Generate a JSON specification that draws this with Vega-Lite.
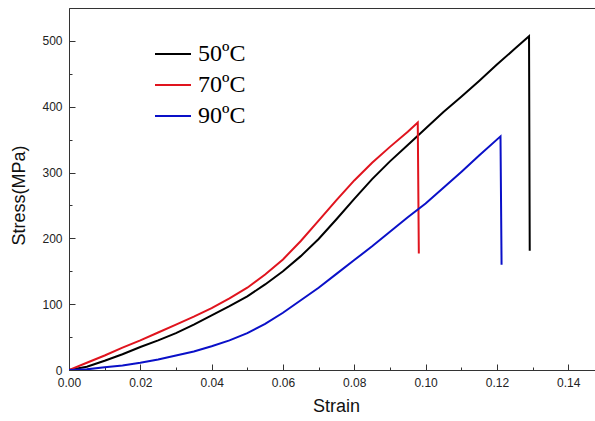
{
  "$schema": "https://vega.github.io/schema/vega-lite/v6.json",
  "width": 526,
  "height": 362,
  "autosize": {"type": "none"},
  "padding": {"left": 69, "top": 8, "right": 0, "bottom": 51},
  "background": "white",
  "config": {
    "view": {"stroke": "#333", "strokeWidth": 1},
    "font": "Liberation Sans"
  },
  "data": {
    "values": [
      {"temp": "50ºC", "strain": 0, "stress": 0},
      {"temp": "50ºC", "strain": 0.005, "stress": 5},
      {"temp": "50ºC", "strain": 0.01, "stress": 14},
      {"temp": "50ºC", "strain": 0.015, "stress": 24},
      {"temp": "50ºC", "strain": 0.02, "stress": 35},
      {"temp": "50ºC", "strain": 0.025, "stress": 45},
      {"temp": "50ºC", "strain": 0.03, "stress": 56},
      {"temp": "50ºC", "strain": 0.035, "stress": 69},
      {"temp": "50ºC", "strain": 0.04, "stress": 83},
      {"temp": "50ºC", "strain": 0.045, "stress": 97},
      {"temp": "50ºC", "strain": 0.05, "stress": 112},
      {"temp": "50ºC", "strain": 0.055, "stress": 130},
      {"temp": "50ºC", "strain": 0.06, "stress": 150},
      {"temp": "50ºC", "strain": 0.065, "stress": 173},
      {"temp": "50ºC", "strain": 0.07, "stress": 199},
      {"temp": "50ºC", "strain": 0.075, "stress": 229},
      {"temp": "50ºC", "strain": 0.08, "stress": 260},
      {"temp": "50ºC", "strain": 0.085, "stress": 290},
      {"temp": "50ºC", "strain": 0.09, "stress": 317},
      {"temp": "50ºC", "strain": 0.095, "stress": 342},
      {"temp": "50ºC", "strain": 0.1, "stress": 367},
      {"temp": "50ºC", "strain": 0.105, "stress": 392},
      {"temp": "50ºC", "strain": 0.11, "stress": 415},
      {"temp": "50ºC", "strain": 0.115, "stress": 439},
      {"temp": "50ºC", "strain": 0.12, "stress": 464},
      {"temp": "50ºC", "strain": 0.125, "stress": 488},
      {"temp": "50ºC", "strain": 0.129, "stress": 507},
      {"temp": "50ºC", "strain": 0.1292, "stress": 181},
      {"temp": "70ºC", "strain": 0, "stress": 0},
      {"temp": "70ºC", "strain": 0.005, "stress": 11},
      {"temp": "70ºC", "strain": 0.01, "stress": 22},
      {"temp": "70ºC", "strain": 0.015, "stress": 34},
      {"temp": "70ºC", "strain": 0.02, "stress": 45},
      {"temp": "70ºC", "strain": 0.025, "stress": 57},
      {"temp": "70ºC", "strain": 0.03, "stress": 69},
      {"temp": "70ºC", "strain": 0.035, "stress": 81},
      {"temp": "70ºC", "strain": 0.04, "stress": 94},
      {"temp": "70ºC", "strain": 0.045, "stress": 109},
      {"temp": "70ºC", "strain": 0.05, "stress": 125},
      {"temp": "70ºC", "strain": 0.055, "stress": 145},
      {"temp": "70ºC", "strain": 0.06, "stress": 168},
      {"temp": "70ºC", "strain": 0.065, "stress": 196},
      {"temp": "70ºC", "strain": 0.07, "stress": 227},
      {"temp": "70ºC", "strain": 0.075, "stress": 258},
      {"temp": "70ºC", "strain": 0.08, "stress": 288},
      {"temp": "70ºC", "strain": 0.085, "stress": 315},
      {"temp": "70ºC", "strain": 0.09, "stress": 339},
      {"temp": "70ºC", "strain": 0.095, "stress": 362},
      {"temp": "70ºC", "strain": 0.0978, "stress": 376},
      {"temp": "70ºC", "strain": 0.0981, "stress": 177},
      {"temp": "90ºC", "strain": 0, "stress": 0},
      {"temp": "90ºC", "strain": 0.005, "stress": 1},
      {"temp": "90ºC", "strain": 0.01, "stress": 4},
      {"temp": "90ºC", "strain": 0.015, "stress": 7},
      {"temp": "90ºC", "strain": 0.02, "stress": 11},
      {"temp": "90ºC", "strain": 0.025, "stress": 16},
      {"temp": "90ºC", "strain": 0.03, "stress": 22},
      {"temp": "90ºC", "strain": 0.035, "stress": 28},
      {"temp": "90ºC", "strain": 0.04, "stress": 36},
      {"temp": "90ºC", "strain": 0.045, "stress": 45},
      {"temp": "90ºC", "strain": 0.05, "stress": 56},
      {"temp": "90ºC", "strain": 0.055, "stress": 70},
      {"temp": "90ºC", "strain": 0.06, "stress": 87},
      {"temp": "90ºC", "strain": 0.065, "stress": 106},
      {"temp": "90ºC", "strain": 0.07, "stress": 125},
      {"temp": "90ºC", "strain": 0.075, "stress": 146},
      {"temp": "90ºC", "strain": 0.08, "stress": 167},
      {"temp": "90ºC", "strain": 0.085, "stress": 188},
      {"temp": "90ºC", "strain": 0.09, "stress": 210},
      {"temp": "90ºC", "strain": 0.095, "stress": 232},
      {"temp": "90ºC", "strain": 0.1, "stress": 253},
      {"temp": "90ºC", "strain": 0.105, "stress": 277},
      {"temp": "90ºC", "strain": 0.11, "stress": 301},
      {"temp": "90ºC", "strain": 0.115, "stress": 326},
      {"temp": "90ºC", "strain": 0.121, "stress": 355},
      {"temp": "90ºC", "strain": 0.1213, "stress": 160}
    ]
  },
  "mark": {"type": "line", "strokeWidth": 2, "clip": true},
  "encoding": {
    "x": {
      "field": "strain",
      "type": "quantitative",
      "scale": {"domain": [0, 0.1475], "nice": false, "zero": false},
      "axis": {
        "title": "Strain",
        "titleFontSize": 18,
        "titleFontWeight": "normal",
        "titleColor": "#111",
        "titleX": 267,
        "titleY": 27,
        "values": [0, 0.01, 0.02, 0.03, 0.04, 0.05, 0.06, 0.07, 0.08, 0.09, 0.1, 0.11, 0.12, 0.13, 0.14],
        "labelExpr": "round(datum.value*100) % 2 === 0 ? format(datum.value, '.2f') : ''",
        "tickSize": -6,
        "tickDash": {"condition": {"test": "round(datum.value*100) % 2 === 0", "value": []}, "value": [3, 10]},
        "labelPadding": 13,
        "labelFontSize": 12,
        "labelColor": "#222",
        "labelFlush": false,
        "grid": false,
        "domainColor": "#333",
        "tickColor": "#333"
      }
    },
    "y": {
      "field": "stress",
      "type": "quantitative",
      "scale": {"domain": [0, 550], "nice": false},
      "axis": {
        "title": "Stress(MPa)",
        "titleFontSize": 18,
        "titleFontWeight": "normal",
        "titleColor": "#111",
        "titleX": -41,
        "titleY": 187,
        "values": [0, 50, 100, 150, 200, 250, 300, 350, 400, 450, 500],
        "labelExpr": "datum.value % 100 === 0 ? datum.value : ''",
        "tickSize": -6,
        "tickDash": {"condition": {"test": "datum.value % 100 === 0", "value": []}, "value": [3, 10]},
        "labelPadding": 13,
        "labelFontSize": 12,
        "labelColor": "#222",
        "labelFlush": false,
        "grid": false,
        "domainColor": "#333",
        "tickColor": "#333"
      }
    },
    "color": {
      "field": "temp",
      "type": "nominal",
      "scale": {"domain": ["50ºC", "70ºC", "90ºC"], "range": ["#000000", "#e0141e", "#0a10c8"]},
      "legend": {
        "title": null,
        "orient": "none",
        "legendX": 85,
        "legendY": 27,
        "symbolType": "M-1,0H1",
        "symbolSize": 1296,
        "symbolStrokeWidth": 2,
        "labelFont": "Liberation Serif",
        "labelFontSize": 24,
        "labelColor": "#000",
        "labelOffset": 6,
        "rowPadding": 0
      }
    }
  }
}
